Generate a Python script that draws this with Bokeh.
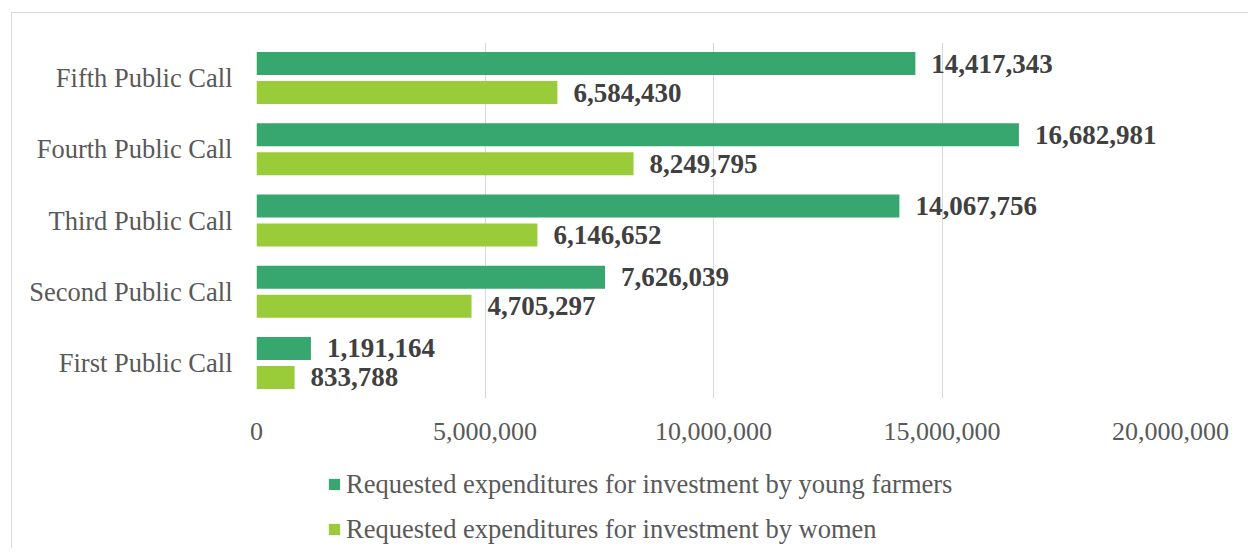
from bokeh.plotting import figure
from bokeh.layouts import column
from bokeh.models import (ColumnDataSource, FactorRange, Range1d, FixedTicker,
                          NumeralTickFormatter, Legend, LegendItem)
from bokeh.transform import dodge
from bokeh.core.properties import value
from bokeh.embed import file_html
from bokeh.resources import INLINE

# ---- data ----
categories = ["First Public Call", "Second Public Call", "Third Public Call",
              "Fourth Public Call", "Fifth Public Call"]
young_farmers = [1191164, 7626039, 14067756, 16682981, 14417343]
women = [833788, 4705297, 6146652, 8249795, 6584430]
x_ticks = [0, 5000000, 10000000, 15000000, 20000000]
series_names = ["Requested expenditures for investment by young farmers",
                "Requested expenditures for investment by women"]

young_color = "#37A76F"
women_color = "#9ACB38"
font = "Liberation Serif"

src = ColumnDataSource(dict(
    cat=categories,
    young=young_farmers,
    women=women,
    young_lbl=[f"{v:,}" for v in young_farmers],
    women_lbl=[f"{v:,}" for v in women],
))

p = figure(width=1236, height=447,
           x_range=Range1d(0, 20000000),
           y_range=FactorRange(*categories, range_padding=0),
           output_backend="svg", toolbar_location=None,
           min_border_left=244, min_border_right=78,
           min_border_top=29, min_border_bottom=62)
p.outline_line_color = None

off = 0.2035
h = 0.323
p.hbar(y=dodge("cat", off, range=p.y_range), right="young", left=0, height=h,
       source=src, fill_color=young_color, line_color=None)
p.hbar(y=dodge("cat", -off, range=p.y_range), right="women", left=0, height=h,
       source=src, fill_color=women_color, line_color=None)

p.text(x="young", y=dodge("cat", off, range=p.y_range), text="young_lbl", source=src,
       x_offset=16, text_baseline="middle", text_align="left",
       text_font=value(font), text_font_style="bold", text_font_size="27px",
       text_color="#404040")
p.text(x="women", y=dodge("cat", -off, range=p.y_range), text="women_lbl", source=src,
       x_offset=16, text_baseline="middle", text_align="left",
       text_font=value(font), text_font_style="bold", text_font_size="27px",
       text_color="#404040")

p.xaxis.ticker = FixedTicker(ticks=x_ticks)
p.xaxis.formatter = NumeralTickFormatter(format="0,0")
for ax in (p.xaxis[0], p.yaxis[0]):
    ax.axis_line_color = None
    ax.major_tick_line_color = None
    ax.minor_tick_line_color = None
    ax.major_label_text_font = font
    ax.major_label_text_color = "#595959"
p.xaxis.major_label_text_font_size = "26px"
p.yaxis.major_label_text_font_size = "26.5px"
p.xaxis.major_label_standoff = 18
p.yaxis.major_label_standoff = 18

p.xgrid.grid_line_color = "#d9d9d9"
p.xgrid.ticker = FixedTicker(ticks=x_ticks)
p.ygrid.grid_line_color = None

# ---- legend strip: legend-only renderers kept outside the visible ranges ----
p2 = figure(width=1236, height=88, output_backend="svg", toolbar_location=None,
            x_range=Range1d(10, 20), y_range=Range1d(10, 20),
            x_axis_type=None, y_axis_type=None,
            min_border_left=244, min_border_right=78, min_border_top=0, min_border_bottom=0)
p2.outline_line_color = None
p2.grid.grid_line_color = None
dummy = ColumnDataSource(dict(y=[0], right=[0]))
l1 = p2.hbar(y="y", right="right", left=0, height=1, source=dummy,
             fill_color=young_color, line_color=None)
l2 = p2.hbar(y="y", right="right", left=0, height=1, source=dummy,
             fill_color=women_color, line_color=None)

legend = Legend(items=[LegendItem(label=series_names[0], renderers=[l1]),
                       LegendItem(label=series_names[1], renderers=[l2])],
                location=(71, 3), orientation="vertical",
                glyph_width=14, glyph_height=14, label_standoff=5,
                label_height=32, spacing=13, padding=0, margin=0,
                border_line_color=None, background_fill_alpha=0,
                label_text_font=font, label_text_font_size="26.5px",
                label_text_color="#595959")
p2.add_layout(legend, "center")

layout = column(p, p2, spacing=0,
                styles={"border-left": "1px solid #d9d9d9", "border-top": "1px solid #d9d9d9",
                        "margin-left": "11px", "margin-top": "12px"})

open("out.html", "w").write(file_html(layout, INLINE))
